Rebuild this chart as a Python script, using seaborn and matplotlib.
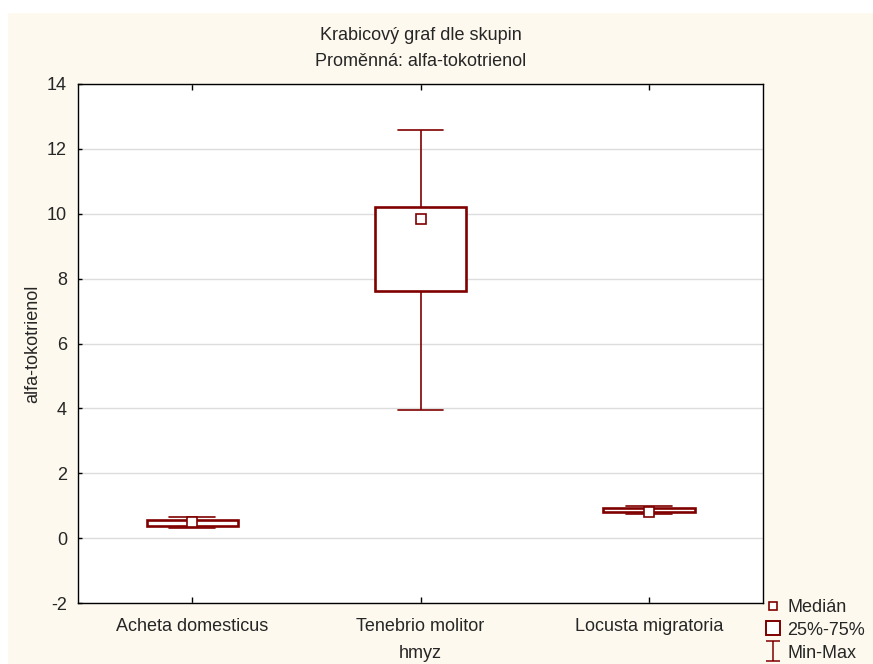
import numpy as np
import pandas as pd
import matplotlib
matplotlib.use("Agg")
import matplotlib.pyplot as plt
from matplotlib.lines import Line2D
from matplotlib.patches import Rectangle
from matplotlib.path import Path
import seaborn as sns

# Five-number summaries per insect species (alfa-tokotrienol)
groups = ["Acheta domesticus", "Tenebrio molitor", "Locusta migratoria"]
mins = [0.30, 3.94, 0.75]
q1s = [0.37, 7.61, 0.81]
medians = [0.50, 9.85, 0.82]
q3s = [0.56, 10.21, 0.93]
maxs = [0.66, 12.59, 0.99]

y_ticks = [-2, 0, 2, 4, 6, 8, 10, 12, 14]
legend_labels = ["Medián", "25%-75%", "Min-Max"]

title_lines = ["Krabicový graf dle skupin", "Proměnná: alfa-tokotrienol"]
x_label = "hmyz"
y_label = "alfa-tokotrienol"

DARK_RED = "#800000"
CREAM = "#FDF9EE"
FS = 13

sns.set_style("white")
plt.rcParams["font.family"] = ["Liberation Sans", "DejaVu Sans"]
plt.rcParams["axes.unicode_minus"] = False

# Long-form table: the five summary values of each group reproduce the
# quartiles exactly, and whis=(0, 100) puts the whiskers at min/max.
rows = []
for g, a, b, c, d, e in zip(groups, mins, q1s, medians, q3s, maxs):
    for v in (a, b, c, d, e):
        rows.append({"hmyz": g, "value": v})
df = pd.DataFrame(rows)

fig = plt.figure(figsize=(8.73, 6.64), dpi=100, facecolor="white")
fig.patches.append(Rectangle((8 / 873, 0), 1 - 8 / 873, 1 - 13 / 664,
                             transform=fig.transFigure, facecolor=CREAM,
                             edgecolor="none", zorder=-10))

ax = fig.add_axes([78 / 873, 1 - 603 / 664, (763 - 78) / 873, (603 - 84) / 664])
ax.set_facecolor("white")

sns.boxplot(data=df, x="hmyz", y="value", order=groups, ax=ax,
            whis=(0, 100), width=0.4, color="white", linecolor=DARK_RED,
            saturation=1, showfliers=False,
            boxprops=dict(linewidth=1.9, zorder=3),
            whiskerprops=dict(linewidth=1.2),
            capprops=dict(linewidth=1.2),
            medianprops=dict(visible=False))

sns.pointplot(x=groups, y=medians, order=groups, ax=ax, color=DARK_RED,
              linestyle="none", marker="s", markersize=6.5,
              markerfacecolor="white", markeredgecolor=DARK_RED,
              markeredgewidth=1.2, errorbar=None, zorder=5)

ax.set_ylim(-2, 14)
ax.set_xlim(-0.5, 2.5)
ax.set_yticks(y_ticks)
ax.set_yticklabels([str(t) for t in y_ticks])
ax.yaxis.grid(True, color="#dcdcdc", linewidth=1.0)
ax.set_axisbelow(True)

for s in ax.spines.values():
    s.set_visible(True)
    s.set_color("black")
    s.set_linewidth(1.0)

ax.tick_params(axis="x", direction="in", length=4, width=1, top=True,
               bottom=True, labelsize=FS, pad=11, color="black")
ax.tick_params(axis="y", direction="in", length=3, width=1, left=True,
               right=False, labelsize=FS, pad=8, color="black")

ax.set_xlabel(x_label, fontsize=FS, labelpad=7)
ax.set_ylabel(y_label, fontsize=FS, labelpad=4)

cx = 0.5 * (78 + 763) / 873
fig.text(cx, 1 - 35 / 664, title_lines[0], ha="center", va="center", fontsize=FS)
fig.text(cx, 1 - 61 / 664, title_lines[1], ha="center", va="center", fontsize=FS)

# Legend symbols: median square, quartile box, min-max whisker
whisker_path = Path([(-0.7, 1), (0.7, 1), (0, 1), (0, -1), (-0.7, -1), (0.7, -1)],
                    [Path.MOVETO, Path.LINETO, Path.MOVETO, Path.LINETO,
                     Path.MOVETO, Path.LINETO])
handles = [
    Line2D([], [], linestyle="none", marker="s", markersize=5.5,
           markerfacecolor="white", markeredgecolor=DARK_RED, markeredgewidth=1.2),
    Line2D([], [], linestyle="none", marker="s", markersize=10.5,
           markerfacecolor="white", markeredgecolor=DARK_RED, markeredgewidth=1.4),
    Line2D([], [], linestyle="none", marker=whisker_path, markersize=14,
           markerfacecolor="none", markeredgecolor=DARK_RED, markeredgewidth=1.1),
]
fig.legend(handles, legend_labels, loc="upper left",
           bbox_to_anchor=(765 / 873, 1 - 599 / 664), frameon=False,
           fontsize=FS, handlelength=0.9, handletextpad=0.35,
           labelspacing=0.32, borderpad=0, borderaxespad=0)

fig.savefig("out.png", dpi=100, facecolor=fig.get_facecolor())
